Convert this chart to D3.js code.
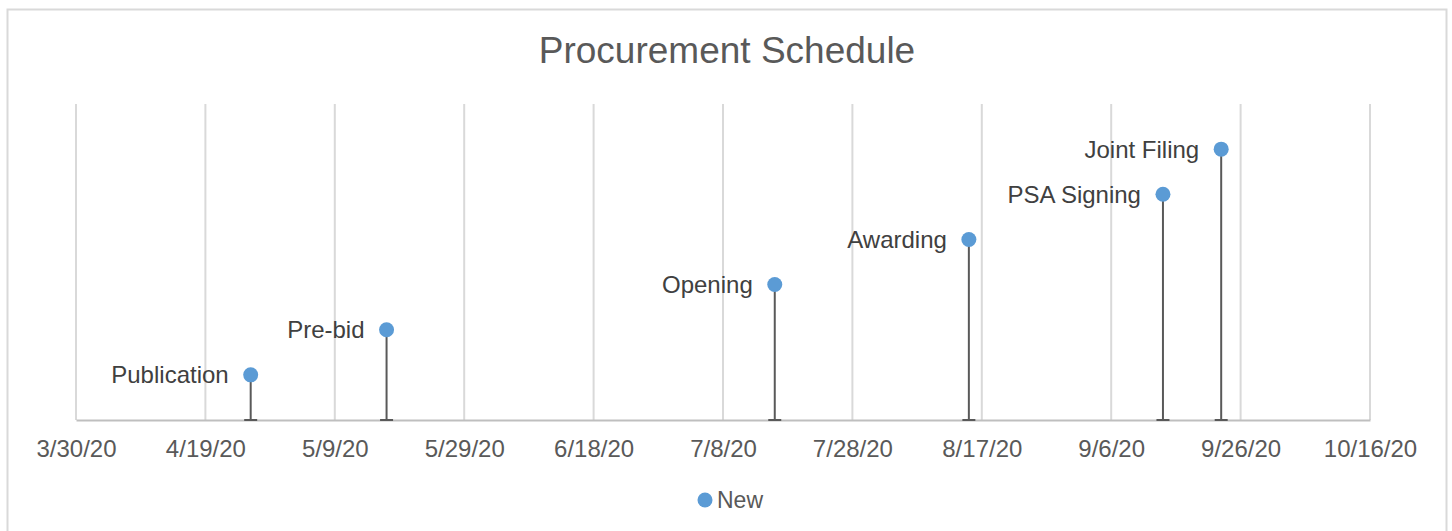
<html>
<head>
<style>
  body { margin: 0; background: #fff; }
  svg text { font-family: "Liberation Sans", Arial, sans-serif; }
</style>
</head>

<body>
  <svg id="svg" width="1452" height="531"></svg>

  <script src="https://cdn.jsdelivr.net/npm/d3@7"></script>
  <script type="text/javascript">
  // milestones of the procurement schedule
  const events = ["Publication", "Pre-bid", "Opening", "Awarding", "PSA Signing", "Joint Filing"];
  const dates  = ["4/26/20", "5/17/20", "7/16/20", "8/15/20", "9/14/20", "9/23/20"];
  const levels = [1, 2, 3, 4, 5, 6];
  const tickDates = ["3/30/20", "4/19/20", "5/9/20", "5/29/20", "6/18/20", "7/8/20",
                     "7/28/20", "8/17/20", "9/6/20", "9/26/20", "10/16/20"];

  const parse = d3.timeParse("%-m/%-d/%y");
  const fmt = d3.timeFormat("%-m/%-d/%y");
  const svg = d3.select("#svg");

  const pLeft = 76, pRight = 1370, pTop = 104, pBottom = 420;

  const x = d3.scaleTime()
    .domain([parse(tickDates[0]), parse(tickDates[tickDates.length - 1])])
    .range([pLeft, pRight]);
  const y = d3.scaleLinear().domain([0, 7]).range([pBottom, pTop]);

  // chart frame
  svg.append("rect")
    .attr("x", 7.5).attr("y", 9.5).attr("width", 1439).attr("height", 530)
    .attr("fill", "#fff").attr("stroke", "#d9d9d9").attr("stroke-width", 2);

  svg.append("text")
    .attr("x", 727).attr("y", 63)
    .attr("text-anchor", "middle")
    .style("font-size", "37px").style("fill", "#595959")
    .text("Procurement Schedule");

  // vertical gridlines
  const ticks = tickDates.map(parse);
  svg.append("g")
    .selectAll("line").data(ticks).enter().append("line")
    .attr("x1", d => x(d)).attr("x2", d => x(d))
    .attr("y1", pTop).attr("y2", pBottom)
    .style("stroke", "#d9d9d9").style("stroke-width", 2);

  // x axis
  const ax = svg.append("g")
    .attr("transform", "translate(0," + pBottom + ")")
    .call(d3.axisBottom(x).tickValues(ticks).tickFormat(fmt).tickSize(0).tickPadding(20));
  ax.select(".domain").style("stroke", "#bfbfbf").style("stroke-width", 2);
  ax.selectAll("text")
    .style("font-family", "'Liberation Sans', Arial, sans-serif")
    .style("font-size", "24px").style("fill", "#595959");

  const ds = events.map((e, i) => ({ name: e, date: parse(dates[i]), v: levels[i] }));

  // stems (error bars down to the axis)
  const g = svg.append("g").selectAll("g").data(ds).enter().append("g");
  g.append("line")
    .attr("x1", d => x(d.date)).attr("x2", d => x(d.date))
    .attr("y1", d => y(d.v)).attr("y2", pBottom)
    .style("stroke", "#595959").style("stroke-width", 2);
  g.append("line")
    .attr("x1", d => x(d.date) - 6.5).attr("x2", d => x(d.date) + 6.5)
    .attr("y1", pBottom).attr("y2", pBottom)
    .style("stroke", "#595959").style("stroke-width", 2);
  g.append("circle")
    .attr("cx", d => x(d.date)).attr("cy", d => y(d.v))
    .attr("r", 7.5).attr("fill", "#5b9bd5");
  g.append("text")
    .attr("x", d => x(d.date) - 22).attr("y", d => y(d.v))
    .attr("dy", "0.35em")
    .attr("text-anchor", "end")
    .style("font-size", "24px").style("fill", "#404040")
    .text(d => d.name);

  // legend
  svg.append("circle").attr("cx", 705).attr("cy", 500).attr("r", 7.5).attr("fill", "#5b9bd5");
  svg.append("text")
    .attr("x", 717).attr("y", 500).attr("dy", "0.35em")
    .style("font-size", "23px").style("fill", "#595959")
    .text("New");
  </script>
</body>
</html>
